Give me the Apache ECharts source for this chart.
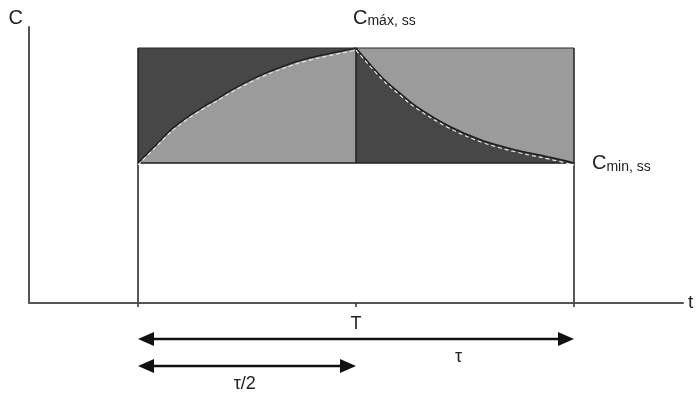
<!DOCTYPE html>
<html><head><meta charset="utf-8">
<script src="https://cdn.jsdelivr.net/npm/echarts@6/dist/echarts.min.js"></script>
<style>html,body{margin:0;padding:0;background:#fff}#c{width:700px;height:393px}</style>
</head><body><div id="c"></div>
<script>
// ---- data ----
const doseTimes = [1, 2, 3];          // start of interval, T, end of interval
const tickLabels = ['', 'T', ''];
const Cmin = 1.0, Cmax = 1.82;
const riseT  = [1.0, 1.078, 1.151, 1.229, 1.307, 1.367, 1.431, 1.505, 1.583, 1.661, 1.734, 1.812, 1.890, 1.963, 2.0];
const riseC  = [1.0, 1.121, 1.236, 1.329, 1.407, 1.461, 1.521, 1.582, 1.639, 1.686, 1.725, 1.757, 1.784, 1.807, 1.82];
const decayT = [2.0, 2.12, 2.2, 2.28, 2.43, 2.58, 2.74, 2.89, 3.0];
const decayC = [1.82, 1.61, 1.50, 1.40, 1.26, 1.16, 1.09, 1.04, 1.0];
const arrowSpans  = [[1, 3], [1, 2]];
const arrowLabels = ['τ', 'τ/2'];
const arrowLabelT = [2.47, 1.49];

// ---- style ----
const DARK = '#474747', LIGHT = '#9b9b9b', INK = '#1e1e1e', AX = '#555555';
const FONT = '"Liberation Sans", Arial, sans-serif';

const rise  = riseT.map((t, i) => [t, riseC[i]]);
const decay = decayT.map((t, i) => [t, decayC[i]]);

function rectShape(api, x0, y0, x1, y1) {
  const p0 = api.coord([x0, y0]), p1 = api.coord([x1, y1]);
  return { x: Math.min(p0[0], p1[0]), y: Math.min(p0[1], p1[1]),
           width: Math.abs(p1[0] - p0[0]), height: Math.abs(p1[1] - p0[1]) };
}
function seg(api, a, b, w, color) {
  const p0 = api.coord(a), p1 = api.coord(b);
  return { type: 'line', shape: { x1: p0[0], y1: p0[1], x2: p1[0], y2: p1[1] },
           style: { stroke: color || INK, lineWidth: w || 1.5 } };
}

const chart = echarts.init(document.getElementById('c'), null, { renderer: 'canvas' });
chart.setOption({
  animation: false,
  backgroundColor: '#fff',
  grid: [
    { left: 29, right: 17, top: 27, bottom: 90 },
    { left: 29, right: 17, top: 29, bottom: 88 }
  ],
  xAxis: [
    { type: 'value', gridIndex: 0, min: 0.5, max: 3.5, z: 10,
      axisLine: { show: true, lineStyle: { color: AX, width: 2 } },
      axisTick: { show: true, customValues: doseTimes, length: 4, lineStyle: { color: '#333', width: 1.5 } },
      axisLabel: { show: true, customValues: [doseTimes[1]], margin: 12,
        formatter: v => tickLabels[doseTimes.indexOf(v)] || '',
        color: '#222', fontSize: 18, fontFamily: FONT },
      splitLine: { show: false },
      name: 't', nameLocation: 'end', nameGap: 5,
      nameTextStyle: { color: '#222', fontSize: 19, fontFamily: FONT, verticalAlign: 'middle' } },
    { type: 'value', gridIndex: 1, min: 0.5, max: 3.5, show: false }
  ],
  yAxis: [
    { type: 'value', gridIndex: 0, min: 0, max: 1.97, z: 10,
      axisLine: { show: true, lineStyle: { color: AX, width: 2 } },
      axisTick: { show: false }, axisLabel: { show: false }, splitLine: { show: false },
      name: 'C', nameLocation: 'end', nameGap: -1,
      nameTextStyle: { color: '#222', fontSize: 20, fontFamily: FONT, align: 'right', padding: [0, 6, 0, 0] } },
    { type: 'value', gridIndex: 1, min: 0, max: 1.97, show: false }
  ],
  series: [
    { // background blocks between Cmin and Cmax
      type: 'custom', z: 1, silent: true, data: [[0]],
      renderItem: (p, api) => ({ type: 'group', children: [
        { type: 'rect', shape: rectShape(api, doseTimes[0], Cmin, doseTimes[1], Cmax), style: { fill: DARK } },
        { type: 'rect', shape: rectShape(api, doseTimes[1], Cmin, doseTimes[2], Cmax), style: { fill: LIGHT } }
      ]})
    },
    { type: 'line', z: 2, data: rise, smooth: 0.25, symbol: 'none', silent: true,
      lineStyle: { color: INK, width: 1.5 }, areaStyle: { color: LIGHT, opacity: 1, origin: 'start' } },
    { type: 'line', z: 2, data: decay, smooth: 0.35, symbol: 'none', silent: true,
      lineStyle: { color: INK, width: 1.5 }, areaStyle: { color: DARK, opacity: 1, origin: 'start' } },
    { // white region below Cmin
      type: 'custom', z: 3, silent: true, data: [[0]],
      renderItem: (p, api) => ({ type: 'rect', shape: rectShape(api, doseTimes[0], 0, doseTimes[2], Cmin), style: { fill: '#fff' } })
    },
    { // outlines
      type: 'custom', z: 4, silent: true, data: [[0]],
      renderItem: (p, api) => ({ type: 'group', children: [
        seg(api, [doseTimes[0], 0], [doseTimes[0], Cmax]),
        seg(api, [doseTimes[2], 0], [doseTimes[2], Cmax]),
        seg(api, [doseTimes[1], Cmin], [doseTimes[1], Cmax]),
        seg(api, [doseTimes[0], Cmax], [doseTimes[2], Cmax], 1.2, '#2a2a2a'),
        seg(api, [doseTimes[0], Cmin], [doseTimes[2], Cmin])
      ]})
    },
    { type: 'line', xAxisIndex: 1, yAxisIndex: 1, z: 5, data: rise, smooth: 0.25, symbol: 'none', silent: true,
      lineStyle: { color: '#e6e6e6', width: 1.2, type: [4, 3] } },
    { type: 'line', xAxisIndex: 1, yAxisIndex: 1, z: 5, data: decay, smooth: 0.35, symbol: 'none', silent: true,
      lineStyle: { color: '#e6e6e6', width: 1.2, type: [4, 3] } },
    { // arrows and annotations
      type: 'custom', z: 6, silent: true, clip: false, data: [[0]],
      renderItem: (p, api) => {
        const children = [];
        const base = api.coord([doseTimes[0], 0])[1];
        arrowSpans.forEach((s, i) => {
          const y = base + 36 + i * 27;
          const xa = api.coord([s[0], 0])[0], xb = api.coord([s[1], 0])[0];
          const L = 16, H = 7;
          children.push({ type: 'line', shape: { x1: xa + 8, y1: y, x2: xb - 8, y2: y }, style: { stroke: '#111', lineWidth: 2.6 } });
          children.push({ type: 'polygon', shape: { points: [[xa, y], [xa + L, y - H], [xa + L, y + H]] }, style: { fill: '#111' } });
          children.push({ type: 'polygon', shape: { points: [[xb, y], [xb - L, y - H], [xb - L, y + H]] }, style: { fill: '#111' } });
          children.push({ type: 'text', x: api.coord([arrowLabelT[i], 0])[0], y: y + 18,
            style: { text: arrowLabels[i], fill: '#222', fontSize: 18, fontFamily: FONT, align: 'center', verticalAlign: 'middle' } });
        });
        const pMax = api.coord([doseTimes[1], Cmax]);
        const pMin = api.coord([doseTimes[2], Cmin]);
        const rich = { c: { fontSize: 20, fontFamily: FONT, fill: '#222', lineHeight: 20 },
                       s: { fontSize: 14, fontFamily: FONT, fill: '#222', lineHeight: 6, verticalAlign: 'bottom' } };
        children.push({ type: 'text', x: pMax[0] - 3, y: pMax[1] - 30,
          style: { text: '{c|C}{s|máx, ss}', rich: rich, align: 'left', verticalAlign: 'middle' } });
        children.push({ type: 'text', x: pMin[0] + 18, y: pMin[1] + 1,
          style: { text: '{c|C}{s|min, ss}', rich: rich, align: 'left', verticalAlign: 'middle' } });
        return { type: 'group', children };
      }
    }
  ]
});
</script></body></html>
